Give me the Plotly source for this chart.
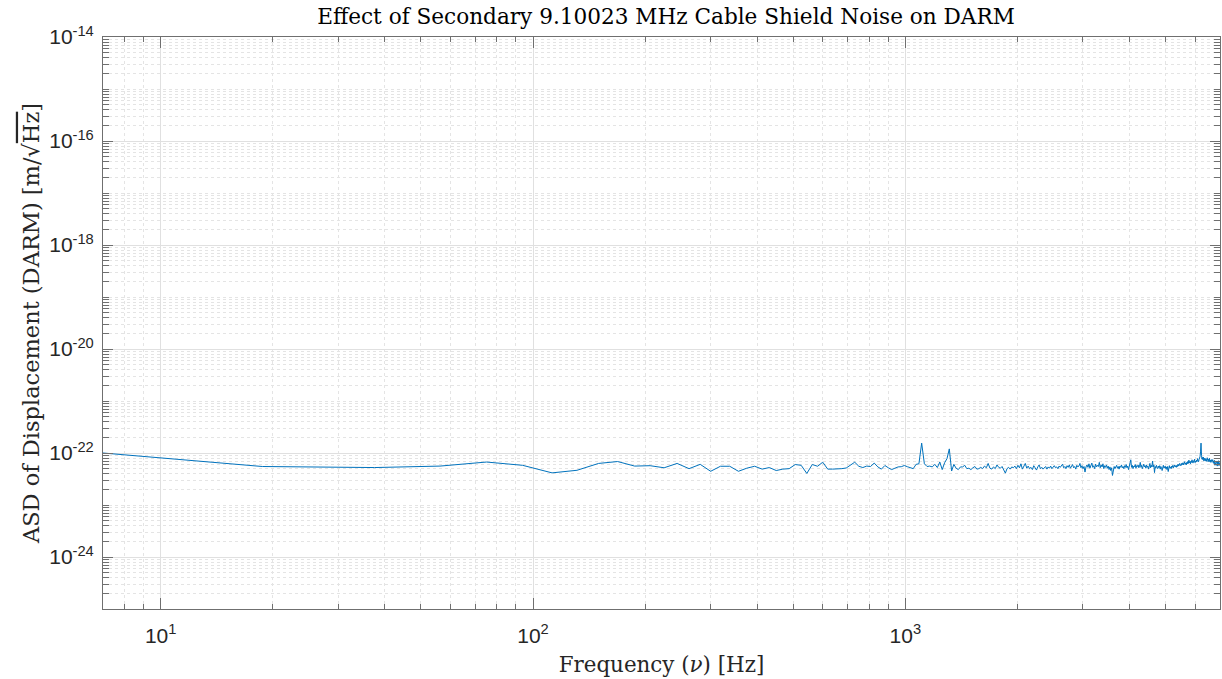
import numpy as np
import plotly.graph_objects as go

# Frequency-bin width of the ASD estimate and the low-frequency plot edge
BIN_HZ = 18.75
EDGE_HZ = 7.0
EDGE_ASD = 10.0  # value where the trace enters at the left edge (units of 1e-23 m/rtHz)

# Projected DARM displacement ASD per frequency bin, in units of 1e-23 m/sqrt(Hz)
asd_low = [
    5.5, 5.25, 5.6, 6.7, 5.8, 4.15, 4.65, 6.3, 6.85, 5.6,
    5.7, 5.2, 6.3, 5.0, 6.05, 4.45, 5.56, 5.56, 4.45, 5.1,
    5.56, 4.9, 5.25, 4.6, 4.9, 5.0, 6.0, 5.8, 4.05, 6.0,
    5.56, 6.65, 4.9, 4.9, 4.9, 5.0, 5.15, 5.8, 6.65, 5.56,
    5.25, 5.6, 5.5, 6.4, 5.4, 4.9, 5.75, 5.2, 4.8, 5.1,
    5.4, 5.45, 5.75, 5.45, 5.2, 5.0, 6.05, 6.2, 15.5, 6.2,
    5.5, 5.6, 5.4, 6.05, 5.25, 6.7, 4.8, 6.5, 7.8, 12.0,
    4.5, 6.05, 5.1, 4.8, 5.4,
]
asd_high = [
    5.4, 5.8, 5.0, 5.1, 4.8, 5.2, 5.5, 4.9, 5.0, 5.3,
    5.0, 5.6, 5.2, 6.3, 5.1, 4.9, 5.4, 5.0, 5.9, 5.3,
    5.1, 5.5, 4.7, 4.1, 5.0, 5.3, 4.9, 5.4, 5.2, 5.6,
    5.0, 5.8, 5.2, 6.2, 4.9, 5.5, 6.3, 5.1, 5.6, 5.0,
    5.3, 4.8, 5.7, 5.2, 4.7, 5.4, 5.9, 5.0, 5.3, 4.9,
    5.2, 5.5, 4.9, 5.4, 5.1, 5.6, 5.0, 5.3, 5.7, 5.2,
    5.4, 5.0, 5.6, 5.3, 5.8, 6.1, 5.2, 5.5, 5.0, 5.7,
    5.3, 5.9, 5.1, 5.6, 6.0, 5.2, 5.5, 4.9, 5.8, 5.4,
    5.6, 6.3, 5.2, 5.7, 5.0, 5.5, 4.3, 5.4, 5.9, 5.3,
    6.2, 5.1, 5.8, 6.4, 5.3, 5.7, 5.0, 6.1, 5.4, 5.8,
    5.5, 6.6, 5.2, 5.9, 5.4, 6.2, 5.0, 5.7, 5.3, 5.9,
    5.1, 5.6, 4.8, 5.4, 4.6, 5.2, 3.7, 4.9, 5.5, 5.0,
    5.4, 5.8, 5.1, 5.5, 4.9, 5.6, 5.3, 5.9, 5.2, 5.5,
    5.0, 5.7, 5.3, 6.0, 5.2, 5.6, 4.8, 5.9, 6.2, 7.4,
    5.3, 5.8, 5.0, 5.6, 5.4, 6.0, 5.1, 5.7, 5.5, 5.9,
    5.2, 5.6, 6.6, 5.3, 5.8, 5.0, 5.5, 6.1, 5.4, 5.7,
    5.1, 5.9, 5.3, 5.6, 4.9, 5.7, 6.3, 5.2, 5.8, 5.4,
    7.0, 5.4, 5.9, 4.2, 5.5, 5.1, 5.8, 5.3, 5.0, 5.6,
    5.2, 5.7, 4.9, 5.5, 5.3, 4.6, 5.4, 5.8, 5.1, 5.3,
    5.6, 5.0, 5.4, 4.8, 5.5, 4.4, 5.2, 5.7, 5.1, 5.4,
    5.0, 5.6, 5.3, 5.8, 5.2, 5.5, 5.9, 5.4, 5.7, 5.3,
    5.8, 5.5, 6.1, 5.6, 5.9, 6.3, 5.7, 6.0, 5.8, 6.4,
    6.0, 6.5, 5.9, 6.2, 6.8, 6.1, 6.4, 5.9, 6.6, 6.2,
    6.9, 6.3, 7.3, 6.5, 6.8, 6.2, 7.0, 6.6, 7.4, 6.7,
    6.4, 7.1, 6.8, 7.6, 6.5, 7.0, 6.7, 7.3, 6.9, 7.8,
    7.2, 6.8, 7.5, 7.9, 8.6, 10.5, 15.5, 9.0, 7.6, 8.2,
    7.4, 8.3, 7.0, 7.8, 8.0, 7.1, 7.7, 6.9, 7.5, 8.1,
    7.2, 6.8, 7.6, 7.0, 7.9, 6.7, 7.3, 6.6, 7.1, 7.5,
    6.9, 7.4, 6.5, 7.0, 6.2, 7.2, 5.8, 6.6, 6.1, 7.0,
    6.4, 5.6, 6.8, 6.0, 7.1, 5.7, 6.5, 6.2,
]
ASD_UNIT = 1e-23

# Axis ticks
x_tickvals = [10, 100, 1000]
x_ticktext = ["10<sup>1</sup>", "10<sup>2</sup>", "10<sup>3</sup>"]
y_exponents = [-24, -22, -20, -18, -16, -14]
y_ticktext = [f"10<sup>{e}</sup>" for e in y_exponents]

TITLE = "Effect of Secondary 9.10023 MHz Cable Shield Noise on DARM"
XLABEL = "Frequency (<i>ν</i>) [Hz]"
YLABEL = 'ASD of Displacement (DARM) [m/√<span style="text-decoration:overline">Hz</span>]'

# ---- build trace arrays ----
bins = np.concatenate([asd_low, asd_high])
freq = np.concatenate([[EDGE_HZ], BIN_HZ * np.arange(1, len(bins) + 1)])
asd = np.concatenate([[EDGE_ASD], bins]) * ASD_UNIT

# minor ticks: 2..9 in each decade, plus the unlabeled decades on y
x_minor = [m * 10.0 ** k for k in range(0, 4) for m in range(2, 10)]
x_minor = [v for v in x_minor if 7 <= v <= 7000]
major_y = [10.0 ** e for e in y_exponents]
y_minor = [m * 10.0 ** k for k in range(-25, -14) for m in range(1, 10)]
y_minor = [v for v in y_minor if v not in major_y and 1e-25 <= v <= 1e-14]

LINE_BLUE = "#0072BD"
AXIS_GRAY = "#6f6f6f"
TEXT = "#262626"
MAJOR_GRID = "#e0e0e0"
MINOR_GRID = "#e4e4e4"

fig = go.Figure()
fig.add_trace(go.Scatter(
    x=freq, y=asd, mode="lines",
    line=dict(color=LINE_BLUE, width=1),
    showlegend=False,
))

axis_common = dict(
    type="log",
    showline=True, linecolor=AXIS_GRAY, linewidth=1, mirror="allticks",
    ticks="inside", tickcolor=AXIS_GRAY, tickwidth=1,
    showgrid=True, gridcolor=MAJOR_GRID, gridwidth=1,
    zeroline=False,
    tickfont=dict(family="Liberation Sans, Arial, sans-serif", size=21, color=TEXT),
)

fig.update_xaxes(
    **axis_common,
    range=[np.log10(7), np.log10(7000)],
    tickmode="array", tickvals=x_tickvals, ticktext=x_ticktext,
    ticklen=11,
    ticklabelstandoff=8,
    minor=dict(tickmode="array", tickvals=x_minor, ticks="inside", ticklen=5,
               tickcolor=AXIS_GRAY, showgrid=True, gridcolor=MINOR_GRID,
               griddash="dot", gridwidth=1),
    title=dict(text=XLABEL, standoff=10,
               font=dict(family="DejaVu Serif, serif", size=21.4, color=TEXT)),
)
fig.update_yaxes(
    **axis_common,
    range=[-25, -14],
    tickmode="array", tickvals=major_y, ticktext=y_ticktext,
    ticklen=10,
    ticklabelstandoff=4,
    minor=dict(tickmode="array", tickvals=y_minor, ticks="inside", ticklen=6,
               tickcolor=AXIS_GRAY, showgrid=True, gridcolor=MINOR_GRID,
               griddash="dot", gridwidth=1),
    title=dict(text=YLABEL, standoff=3,
               font=dict(family="DejaVu Serif, serif", size=22.5, color=TEXT)),
)

fig.update_layout(
    width=1222, height=679,
    margin=dict(l=103, r=2, t=37, b=70),
    paper_bgcolor="white", plot_bgcolor="white",
    title=dict(text=TITLE, x=0.545, xanchor="center", xref="container",
               y=1 - 16 / 679, yanchor="middle", yref="container",
               font=dict(family="DejaVu Serif, serif", size=21.6, color="#000000")),
)

fig.write_html("out.html")
